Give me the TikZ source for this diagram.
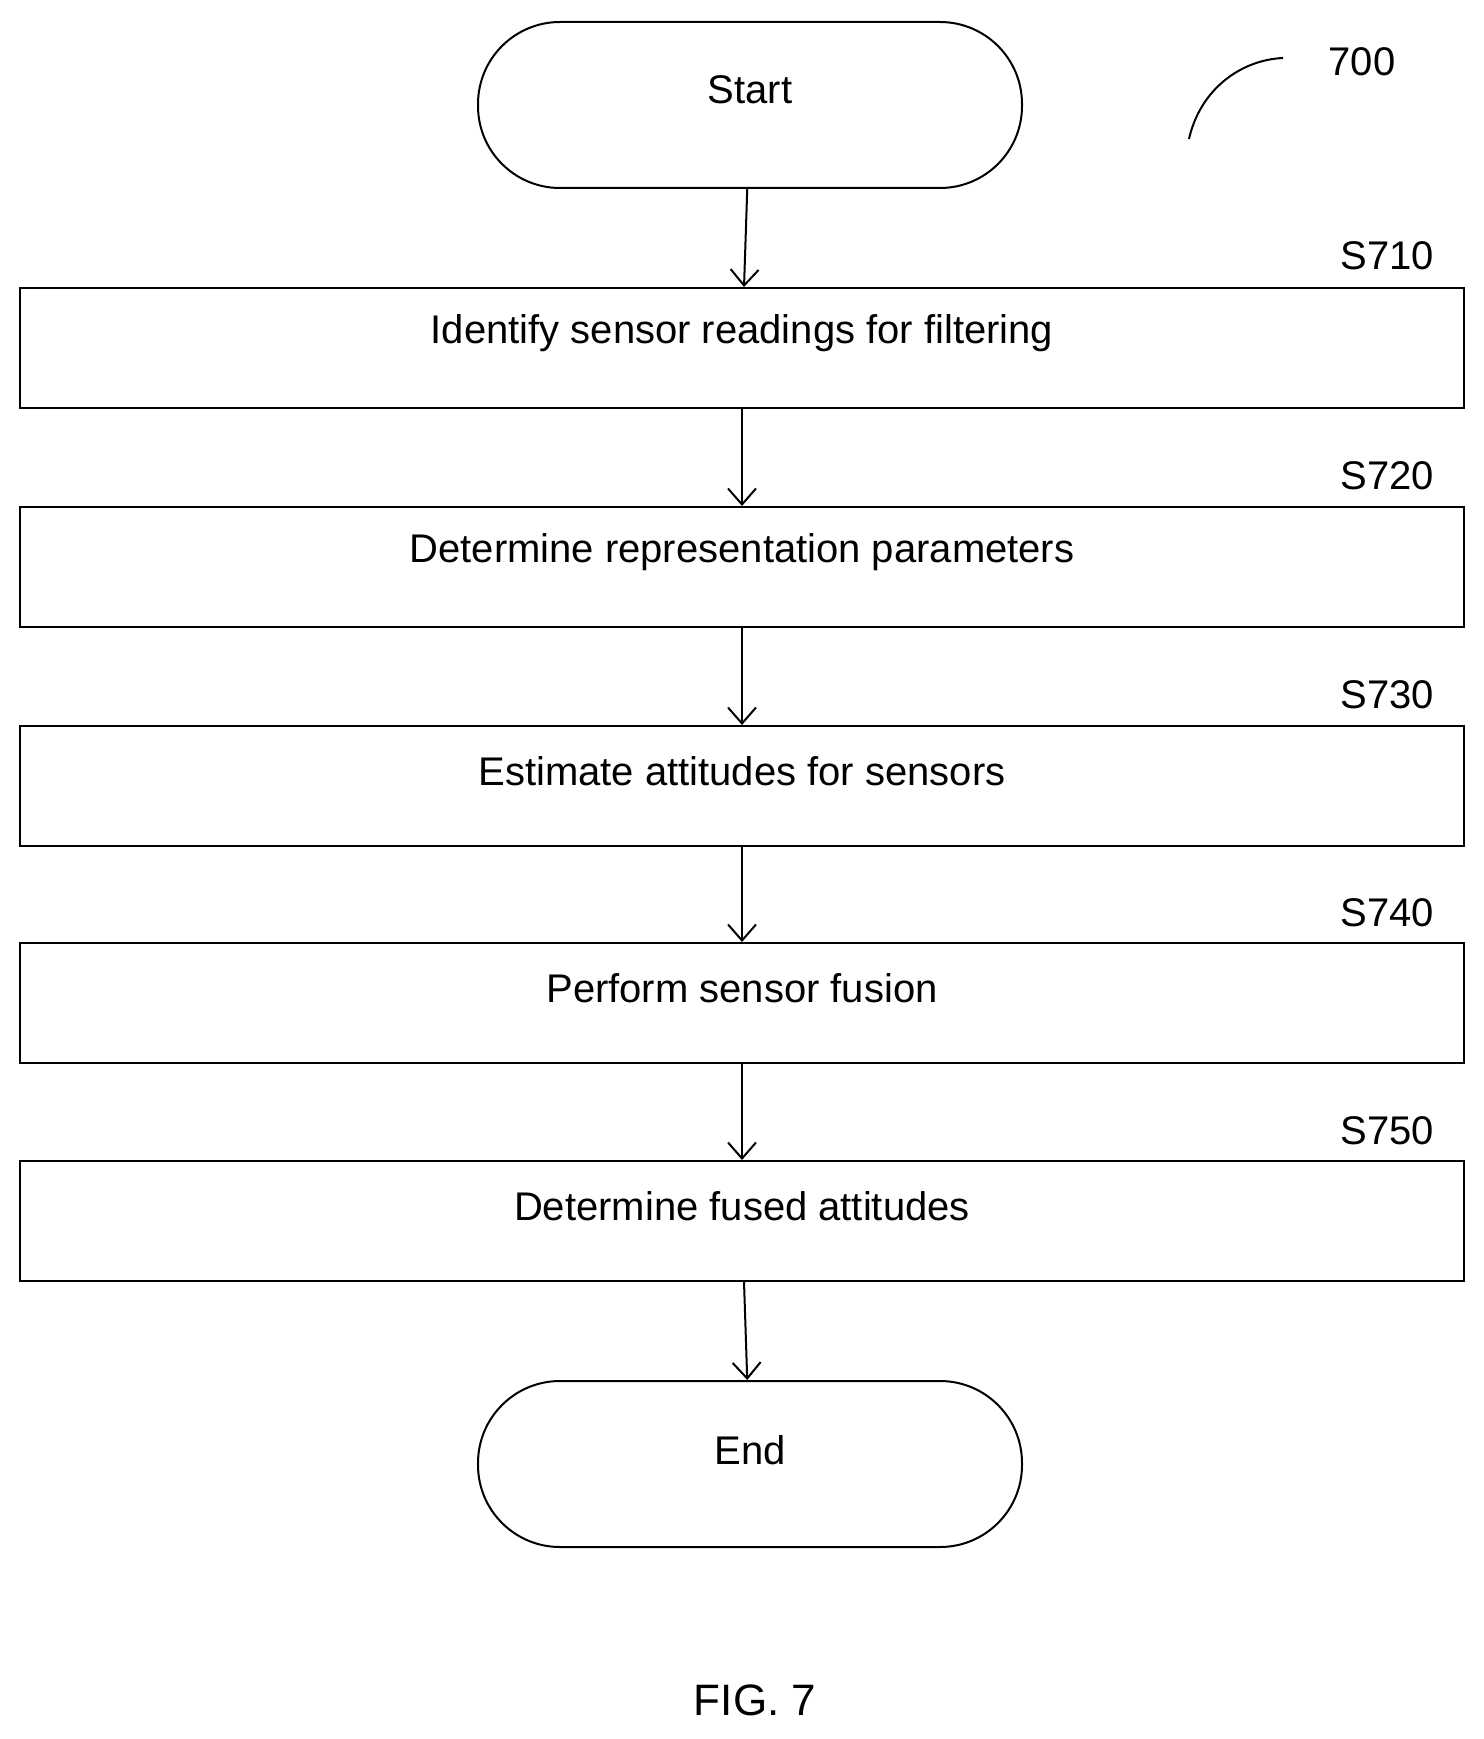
\documentclass[tikz,border=0pt]{standalone}
\usepackage{fontspec}
\setmainfont{Liberation Sans}
\begin{document}
\begin{tikzpicture}[x=0.5pt,y=-0.5pt,
  box/.style={draw,line width=1pt,minimum width=722pt,minimum height=60pt,inner sep=0pt},
  term/.style={draw,line width=1pt,rounded corners=41pt,minimum width=272pt,minimum height=83pt,inner sep=0pt},
  txt/.style={font=\fontsize{20}{24}\selectfont},
  lbl/.style={font=\fontsize{20}{24}\selectfont,anchor=east},
  arr/.style={->,line width=1pt,>={Straight Barb[length=8pt,width=14pt]}}]
\useasboundingbox (0,0) rectangle (1483,1739);
\usetikzlibrary{arrows.meta}
\node[term] (start) at (750,105) {};
\node[txt] (starttxt) at (750,90) {Start};
\node[box] (b1) at (742,348) {};
\node[box] (b2) at (742,567) {};
\node[box] (b3) at (742,786) {};
\node[box] (b4) at (742,1003) {};
\node[box] (b5) at (742,1221) {};
\node[term] (end) at (750,1464) {};
\node[txt] (endtxt) at (750,1450) {End};
\node[txt] (t1) at (742,333) {Identify sensor readings for filtering};
\node[txt] (t2) at (742,552) {Determine representation parameters};
\node[txt] (t3) at (742,771) {Estimate attitudes for sensors};
\node[txt] (t4) at (742,988) {Perform sensor fusion};
\node[txt] (t5) at (742,1206) {Determine fused attitudes};
\node[lbl] (l1) at (1441,256) {S710};
\node[lbl] (l2) at (1441,476) {S720};
\node[lbl] (l3) at (1441,695) {S730};
\node[lbl] (l4) at (1441,913) {S740};
\node[lbl] (l5) at (1441,1131) {S750};
\node[txt] (num) at (1362,62) {700};
\node[font=\fontsize{22}{26}\selectfont] (fig) at (755,1700) {FIG. 7};
\coordinate (c1) at (1189,139);
\coordinate (c2) at (1283,58);
\draw[line width=1pt] (c1) .. controls (1200,90) and (1240,60) .. (c2);
\draw[arr] (start) -- (b1);
\draw[arr] (b1) -- (b2);
\draw[arr] (b2) -- (b3);
\draw[arr] (b3) -- (b4);
\draw[arr] (b4) -- (b5);
\draw[arr] (b5) -- (end);
\end{tikzpicture}
\end{document}
